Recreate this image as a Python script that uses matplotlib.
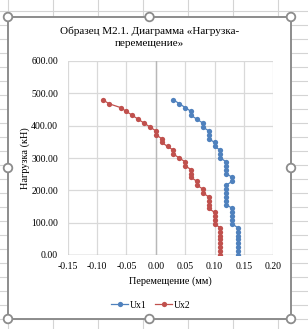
import matplotlib
matplotlib.use('Agg')
import matplotlib.pyplot as plt
from matplotlib.patches import Rectangle, Circle
from matplotlib.ticker import FuncFormatter, MultipleLocator

# ---- data ----
load = [0, 12, 24, 36, 48, 60, 72, 84, 96, 108, 120, 132, 144, 156, 168, 180,
        192, 204, 216, 228, 240, 252, 264, 276, 288, 300, 312, 324, 336, 348,
        360, 372, 384, 396, 408, 420, 432, 444, 456, 468, 480]
ux1 = [0.14, 0.14, 0.14, 0.14, 0.14, 0.14, 0.14, 0.14,
       0.13, 0.13, 0.13, 0.13, 0.13,
       0.12, 0.12, 0.12, 0.12, 0.12, 0.12,
       0.13, 0.13,
       0.12, 0.12, 0.12, 0.12,
       0.11, 0.11, 0.11,
       0.10, 0.10,
       0.09, 0.09, 0.09,
       0.08, 0.08,
       0.07,
       0.06, 0.06,
       0.05, 0.04, 0.03]
ux2 = [0.11, 0.11, 0.11, 0.11, 0.11, 0.11, 0.11, 0.11,
       0.10, 0.10, 0.10, 0.10,
       0.09, 0.09, 0.09, 0.09,
       0.08, 0.08,
       0.07, 0.07,
       0.06, 0.06, 0.06,
       0.05, 0.05,
       0.04,
       0.03, 0.03,
       0.02,
       0.01, 0.01,
       0.00, 0.00,
       -0.01, -0.02, -0.03, -0.04, -0.05, -0.06, -0.08, -0.09]
series_names = ["Ux1", "Ux2"]
colors = ["#4F81BD", "#C0504D"]

title_text = "Образец М2.1. Диаграмма «Нагрузка-\nперемещение»"
xlabel_text = "Перемещение (мм)"
ylabel_text = "Нагрузка (кН)"

W, H = 308, 329
plt.rcParams['font.family'] = ['Liberation Serif', 'DejaVu Serif']

fig = plt.figure(figsize=(W / 100, H / 100), dpi=100)

# ---- background: spreadsheet grid + chart box + handles ----
bg = fig.add_axes([0, 0, 1, 1], zorder=0)
bg.set_xlim(0, W)
bg.set_ylim(H, 0)
bg.axis('off')
gcol = "#d4d4d4"
for xv in [7.5, 52.5, 97.5, 142.5, 187.5, 232.5, 277.5]:
    bg.plot([xv, xv], [0, H], color=gcol, lw=0.8, zorder=1)
y = 319
while y > 0:
    bg.plot([0, W], [y, y], color=gcol, lw=0.8, zorder=1)
    y -= 14
bg.add_patch(Rectangle((8, 17), 283, 302, facecolor="white", edgecolor="#8c8c8c",
                       lw=1.4, zorder=2))
for (hx, hy) in [(8, 17), (149.5, 17), (291, 17), (8, 168), (291, 168),
                 (8, 319), (149.5, 319), (291, 319)]:
    bg.add_patch(Circle((hx, hy), 4.3, facecolor="white", edgecolor="#8c8c8c",
                        lw=1.3, zorder=3))

# ---- main chart ----
left, right, top, bottom = 67.7, 273.3, 61, 255
ax = fig.add_axes([left / W, 1 - bottom / H, (right - left) / W, (bottom - top) / H],
                  zorder=2)
ax.patch.set_alpha(0)
for i, (vals, name, c) in enumerate(zip([ux1, ux2], series_names, colors)):
    ax.plot(vals, load, color=c, lw=0.9, marker='o', markersize=3.8,
            markeredgewidth=0, label=name, zorder=3 + i)

ax.set_xlim(-0.15, 0.20)
ax.set_ylim(0, 600)
ax.xaxis.set_major_locator(MultipleLocator(0.05))
ax.yaxis.set_major_locator(MultipleLocator(100))
ax.xaxis.set_major_formatter(FuncFormatter(lambda v, p: f"{v:.2f}" if abs(v) > 1e-9 else "0.00"))
ax.yaxis.set_major_formatter(FuncFormatter(lambda v, p: f"{v:.2f}"))
ax.grid(True, color="#d9d9d9", lw=0.9, zorder=0)
ax.set_axisbelow(True)
for s in ax.spines.values():
    s.set_visible(False)
ax.axvline(0, color="#b8b8b8", lw=1.0, zorder=1)
ax.axhline(0, color="#b8b8b8", lw=1.0, zorder=1)
ax.tick_params(length=0, labelsize=7.0, colors="black")
ax.tick_params(axis='y', pad=7)
ax.tick_params(axis='x', pad=5)

fig.text(149.5 / W, 1 - 37.5 / H, title_text, ha='center', va='center',
         fontsize=8.0, linespacing=1.4)
fig.text(170.5 / W, 1 - 281 / H, xlabel_text, ha='center', va='center', fontsize=7.4)
fig.text(25 / W, 1 - 158 / H, ylabel_text, ha='center', va='center', fontsize=7.4,
         rotation=90)

ax.legend(loc='center', bbox_to_anchor=(151 / W, 1 - 305 / H),
          bbox_transform=fig.transFigure, ncol=2, frameon=False, fontsize=7.0,
          handlelength=1.7, handletextpad=0.2, columnspacing=0.9, borderpad=0)

fig.savefig("out.png", dpi=100)
